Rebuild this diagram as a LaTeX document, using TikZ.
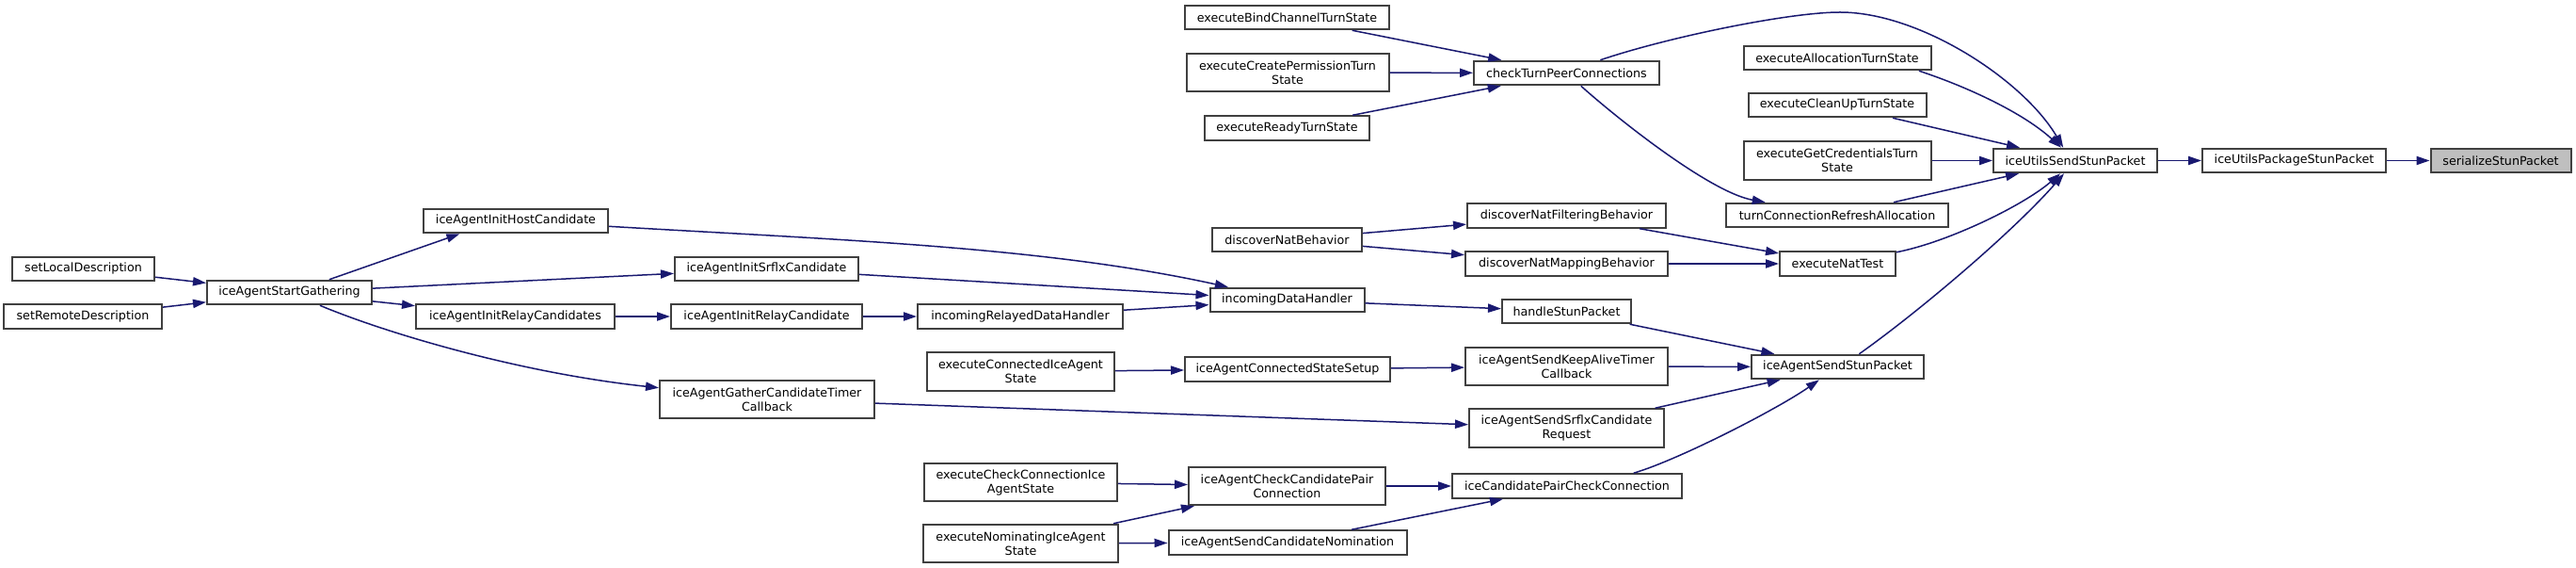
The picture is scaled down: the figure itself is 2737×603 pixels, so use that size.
\documentclass[tikz,border=0pt]{standalone}
\usepackage{fontspec}
\setmainfont{DejaVu Sans}
\usepackage{tikz}
\usetikzlibrary{arrows.meta}
\definecolor{callblue}{RGB}{25,25,112}
\definecolor{boxgrey}{RGB}{64,64,64}
\definecolor{rootgrey}{RGB}{191,191,191}
\tikzset{
  fnode/.style={rectangle, draw=boxgrey, fill=white, line width=1pt,
                inner sep=0pt, minimum height=12.75pt, align=center,
                font=\fontsize{6.35}{7.5}\selectfont},
  fnodetwo/.style={fnode, minimum height=20.25pt},
  fnoderoot/.style={fnode, fill=rootgrey},
  fcall/.style={-{Triangle[length=7pt, width=4.6pt]}, line width=0.75pt, callblue},
}
\begin{document}
\begin{tikzpicture}[x=0.5pt, y=-0.5pt]
\useasboundingbox (0,0) rectangle (2737,603);
% callers, left to right
\node[fnode, minimum width=75.5pt] (sld) at (88.5,285.5) {setLocalDescription};
\node[fnode, minimum width=84pt] (srd) at (88,336) {setRemoteDescription};
\node[fnode, minimum width=87.5pt] (sg) at (307.5,310.5) {iceAgentStartGathering};
\node[fnode, minimum width=98pt] (ihc) at (548,234.5) {iceAgentInitHostCandidate};
\node[fnode, minimum width=105.5pt] (irs) at (547.5,336) {iceAgentInitRelayCandidates};
\node[fnode, minimum width=97.5pt] (isc) at (814.5,285.5) {iceAgentInitSrflxCandidate};
\node[fnode, minimum width=101.5pt] (irc) at (814.5,336) {iceAgentInitRelayCandidate};
\node[fnodetwo, minimum width=114pt] (gct) at (815,424) {iceAgentGatherCandidateTimer\\Callback};
\node[fnode, minimum width=109pt] (ird) at (1084,336) {incomingRelayedDataHandler};
\node[fnodetwo, minimum width=99.5pt] (eca) at (1084.5,394.5) {executeConnectedIceAgent\\State};
\node[fnodetwo, minimum width=102.5pt] (ecc) at (1084.5,512) {executeCheckConnectionIce\\AgentState};
\node[fnodetwo, minimum width=103.5pt] (eni) at (1084.5,577) {executeNominatingIceAgent\\State};
\node[fnode, minimum width=108.5pt] (ebc) at (1367.5,18.5) {executeBindChannelTurnState};
\node[fnodetwo, minimum width=107.5pt] (ecp) at (1368,77) {executeCreatePermissionTurn\\State};
\node[fnode, minimum width=87.5pt] (ert) at (1367.5,136) {executeReadyTurnState};
\node[fnode, minimum width=79.5pt] (dnb) at (1367.5,254.5) {discoverNatBehavior};
\node[fnode, minimum width=82pt] (idh) at (1367.5,318.5) {incomingDataHandler};
\node[fnode, minimum width=109pt] (css) at (1368,392) {iceAgentConnectedStateSetup};
\node[fnodetwo, minimum width=104.5pt] (ccp) at (1367.5,516) {iceAgentCheckCandidatePair\\Connection};
\node[fnode, minimum width=126.5pt] (scn) at (1368,576) {iceAgentSendCandidateNomination};
\node[fnode, minimum width=98.5pt] (ctp) at (1664.5,77.5) {checkTurnPeerConnections};
\node[fnode, minimum width=105.5pt] (dnf) at (1664.5,229) {discoverNatFilteringBehavior};
\node[fnode, minimum width=107.5pt] (dnm) at (1664.5,280) {discoverNatMappingBehavior};
\node[fnode, minimum width=68.5pt] (hsp) at (1664.5,330.5) {handleStunPacket};
\node[fnodetwo, minimum width=107.5pt] (ska) at (1664.5,389) {iceAgentSendKeepAliveTimer\\Callback};
\node[fnodetwo, minimum width=103.5pt] (ssr) at (1664.5,454.5) {iceAgentSendSrflxCandidate\\Request};
\node[fnode, minimum width=122pt] (cpc) at (1665,516) {iceCandidatePairCheckConnection};
\node[fnode, minimum width=99.5pt] (eat) at (1952,61.5) {executeAllocationTurnState};
\node[fnode, minimum width=94.5pt] (ecu) at (1952,111.5) {executeCleanUpTurnState};
\node[fnodetwo, minimum width=99.5pt] (egc) at (1952,170.5) {executeGetCredentialsTurn\\State};
\node[fnode, minimum width=118pt] (tcr) at (1952,228.5) {turnConnectionRefreshAllocation};
\node[fnode, minimum width=61.5pt] (ent) at (1952.5,280) {executeNatTest};
\node[fnode, minimum width=91.5pt] (asp) at (1952.5,389.5) {iceAgentSendStunPacket};
\node[fnode, minimum width=87pt] (uss) at (2205,170.5) {iceUtilsSendStunPacket};
\node[fnode, minimum width=97.5pt] (ups) at (2437.5,170.5) {iceUtilsPackageStunPacket};
\node[fnoderoot, minimum width=74.5pt] (ser) at (2657,170.5) {serializeStunPacket};
% gathering side
\draw[fcall] (sld) -- (sg);
\draw[fcall] (srd) -- (sg);
\draw[fcall] (sg.18) -- (ihc.193);
\draw[fcall] (sg) -- (isc);
\draw[fcall] (sg) -- (irs);
\draw[fcall] (sg.-23) .. controls (411,354) and (553,396) .. (gct);
\draw[fcall] (irs) -- (irc);
\draw[fcall] (irc) -- (ird);
\draw[fcall] (ihc) .. controls (896,255) and (1110,262) .. (idh);
\draw[fcall] (isc) -- (idh);
\draw[fcall] (ird) -- (idh);
\draw[fcall] (idh) -- (hsp);
\draw[fcall] (hsp) -- (asp);
\draw[fcall] (eca) -- (css);
\draw[fcall] (css) -- (ska);
\draw[fcall] (ska) -- (asp);
\draw[fcall] (gct) -- (ssr);
\draw[fcall] (ssr) -- (asp);
\draw[fcall] (ecc) -- (ccp);
\draw[fcall] (eni) -- (ccp);
\draw[fcall] (eni) -- (scn);
\draw[fcall] (ccp) -- (cpc);
\draw[fcall] (scn) -- (cpc);
\draw[fcall] (cpc.11) .. controls (1784,488) and (1889,434) .. (asp);
\draw[fcall] (asp.31) .. controls (2040,330) and (2140,245) .. (uss);
% nat and turn side
\draw[fcall] (dnb) -- (dnf);
\draw[fcall] (dnb) -- (dnm);
\draw[fcall] (dnf) -- (ent);
\draw[fcall] (dnm) -- (ent);
\draw[fcall] (ent) .. controls (2070,257) and (2150,218) .. (uss);
\draw[fcall] (ebc) -- (ctp);
\draw[fcall] (ecp) -- (ctp);
\draw[fcall] (ert) -- (ctp);
\draw[fcall] (ctp.21) .. controls (1770,40) and (1900,13) .. (1955,13)
  .. controls (2040,13) and (2150,85) .. (uss.133);
\draw[fcall] (ctp) .. controls (1715,123) and (1816,204) .. (tcr);
\draw[fcall] (eat.-9) .. controls (2090,92) and (2150,120) .. (uss);
\draw[fcall] (ecu) -- (uss);
\draw[fcall] (egc) -- (uss);
\draw[fcall] (tcr) -- (uss);
\draw[fcall] (uss) -- (ups);
\draw[fcall] (ups) -- (ser);
\end{tikzpicture}
\end{document}
